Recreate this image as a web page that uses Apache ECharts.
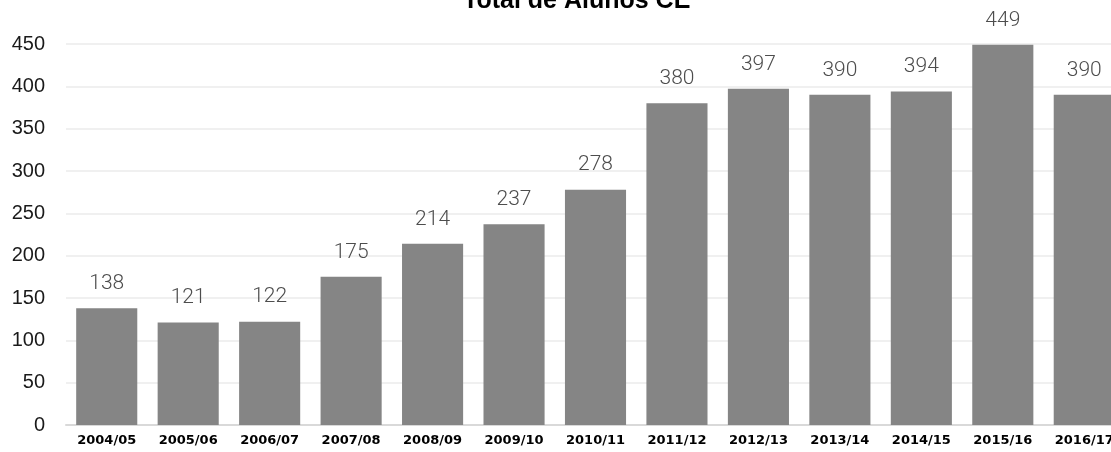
<!DOCTYPE html>
<html>
<head>
<meta charset="utf-8">
<script src="https://cdn.jsdelivr.net/npm/echarts@6/dist/echarts.min.js"></script>
<style>
html, body { margin: 0; padding: 0; overflow: hidden; background: #fff; }
#chart { width: 1125px; height: 452px; }
</style>
</head>
<body>
<div id="chart"></div>
<script>
var years = ["2004/05", "2005/06", "2006/07", "2007/08", "2008/09", "2009/10", "2010/11",
    "2011/12", "2012/13", "2013/14", "2014/15", "2015/16", "2016/17"]
var alunos = [138, 121, 122, 175, 214, 237, 278, 380, 397, 390, 394, 449, 390]
var yTicks = [0, 50, 100, 150, 200, 250, 300, 350, 400, 450]

var chartDom = document.getElementById("chart")
var myChart = echarts.init(chartDom)
var option

// the source picture is cut off on the right, so the canvas is a bit wider than the window
option = {
    animation: false,
    title: {
        text: "Total de Alunos CE",
        left: 458,
        top: -16,
        textStyle: {
            fontFamily: "Liberation Sans",
            fontSize: 25,
            fontWeight: "bold",
            color: "#000"
        }
    },
    grid: {
        left: 66,
        right: 0,
        top: 44,
        bottom: 27
    },
    xAxis: {
        type: "category",
        data: years,
        axisTick: { show: false },
        axisLine: { lineStyle: { color: "#d9d9d9", width: 2 } },
        axisLabel: {
            margin: 9,
            fontFamily: "DejaVu Sans",
            fontSize: 13,
            fontWeight: "bold",
            color: "#000"
        }
    },
    yAxis: {
        type: "value",
        min: yTicks[0],
        max: yTicks[yTicks.length - 1],
        interval: 50,
        axisLine: { show: false },
        axisTick: { show: false },
        splitLine: { lineStyle: { color: "#ebebeb", width: 1.5 } },
        axisLabel: {
            margin: 21,
            fontFamily: "Liberation Sans",
            fontSize: 20,
            color: "#1a1a1a"
        }
    },
    series: [
        {
            type: "bar",
            data: alunos,
            barCategoryGap: "25%",
            itemStyle: { color: "#858585" },
            label: {
                show: true,
                position: "top",
                distance: 14,
                fontFamily: "Roboto",
                fontWeight: 300,
                fontSize: 21,
                color: "#4d4d4d"
            }
        }
    ]
}

option && myChart.setOption(option)
</script>
</body>
</html>
